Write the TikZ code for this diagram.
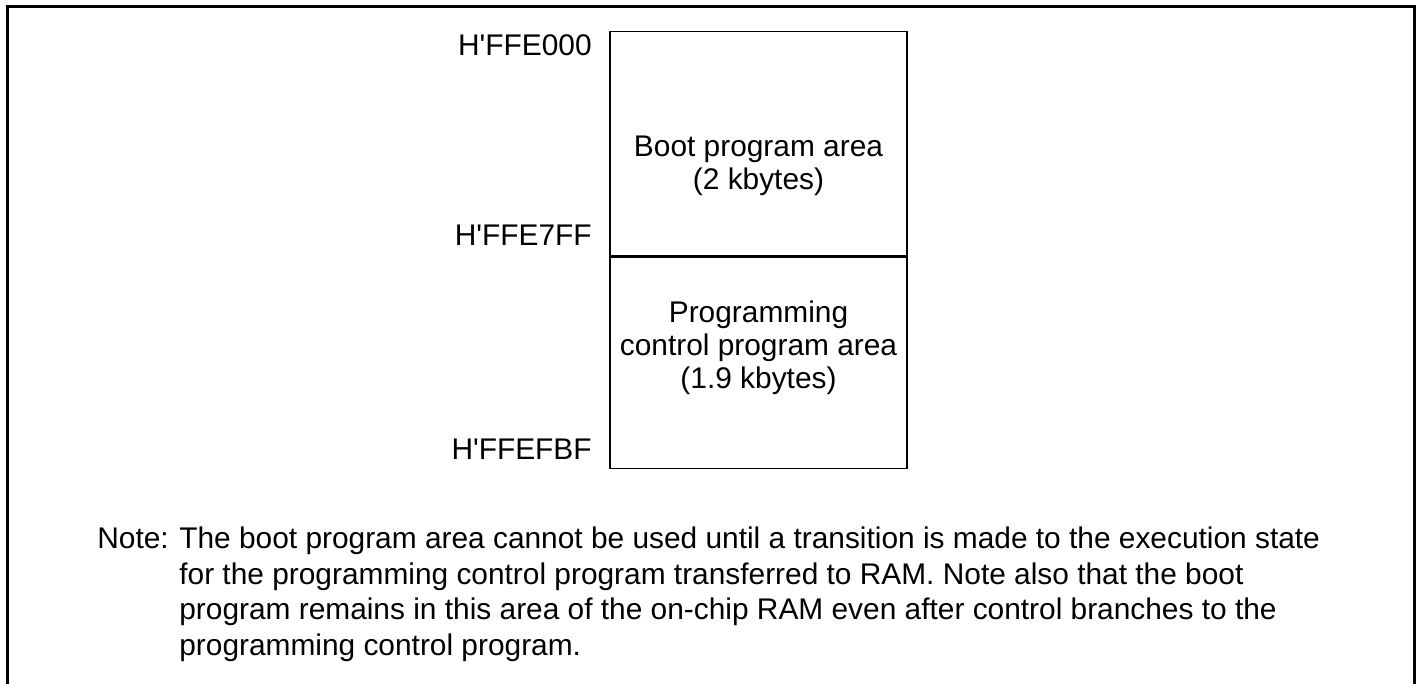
\documentclass[tikz,border=0pt]{standalone}
\usepackage{fontspec}
\setmainfont{Liberation Sans}
\usetikzlibrary{positioning}
\newcommand\hexaddr[1]{H\textquotesingle #1}
\tikzset{
  frame/.style    = { line width=0.06cm, black },
  area/.style     = { draw, line width=0.7pt, minimum width=5.94cm, inner sep=0pt },
  areatext/.style = { align=center, inner sep=0pt, font=\fontsize{17}{18.8}\selectfont },
  addr/.style     = { anchor=base east, inner sep=0pt, font=\fontsize{17}{20}\selectfont },
  note/.style     = { anchor=base west, align=left, inner sep=0pt, font=\fontsize{17}{20.2}\selectfont },
}
\begin{document}
\begin{tikzpicture}[x=0.02cm,y=-0.02cm]
    \useasboundingbox (0,0) rectangle (1417,684);

    % outer frame (open at the bottom)
    \draw[frame] (7.5,684) -- (7.5,6.5) -- (1414.5,6.5) -- (1414.5,684);

    % memory areas
    \node[area, minimum height=4.48cm] (boot) at (758.5,143.7) {};
    \node[area, minimum height=4.24cm, below=0pt of boot] (prog) {};

    \node[areatext] (boottext) at (758.5,166) {Boot program area\\(2 kbytes)};
    \node[areatext] (progtext) at (758.5,348) {Programming\\control program area\\(1.9 kbytes)};

    % addresses
    \node[addr] (a0) at (592,55.7) {\hexaddr{FFE000}};
    \node[addr] (a1) at (592,245)  {\hexaddr{FFE7FF}};
    \node[addr] (a2) at (592,459)  {\hexaddr{FFEFBF}};

    % note (base = last line)
    \node[note] (notehead) at (97,548) {Note:};
    \node[note] (notebody) at (179,655) {The boot program area cannot be used until a transition is made to the execution state\\
      for the programming control program transferred to RAM. Note also that the boot\\
      program remains in this area of the on-chip RAM even after control branches to the\\
      programming control program.};
\end{tikzpicture}
\end{document}
